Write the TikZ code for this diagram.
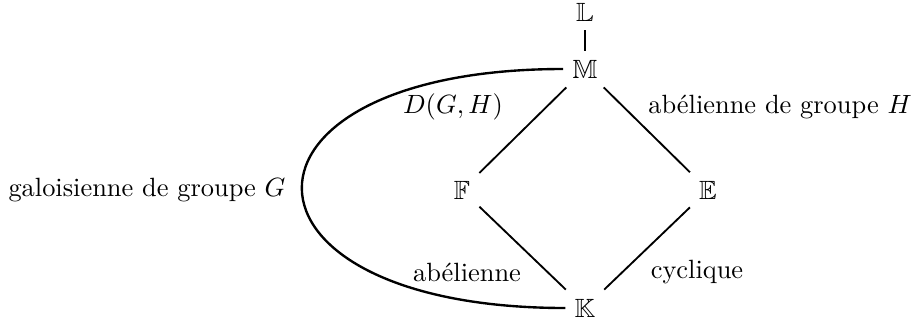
\documentclass[tikz,border=0pt]{standalone}
\usepackage{amssymb}
\begin{document}
\begin{tikzpicture}[x=0.3788pt,y=-0.3788pt,
  field/.style={inner sep=0.333em},
  lab/.style={inner sep=0pt},
  edge/.style={line width=0.7pt},
  arc/.style={line width=0.9pt}]
\useasboundingbox (0,0) rectangle (920,326);
\node[field] (L) at (585,12) {$\mathbb{L}$};
\node[field] (M) at (585,69) {$\mathbb{M}$};
\node[field] (F) at (462,190) {$\mathbb{F}$};
\node[field] (E) at (708,190) {$\mathbb{E}$};
\node[field] (K) at (585,308) {$\mathbb{K}$};
\draw[edge] (L) -- (M);
\draw[edge] (M) -- (F);
\draw[edge] (M) -- (E);
\draw[edge] (F) -- (K);
\draw[edge] (E) -- (K);
\draw[arc] (M.west) .. controls +(-350,0) and +(-350,0) .. (K.west);
\node[lab] (dgh) at (453,107) {$D(G,H)$};
\node[lab] (abh) at (780,107) {abélienne de groupe $H$};
\node[lab] (gal) at (147,190) {galoisienne de groupe $G$};
\node[lab] (ab) at (467,272) {abélienne};
\node[lab] (cyc) at (697,272) {cyclique};
\end{tikzpicture}
\end{document}
